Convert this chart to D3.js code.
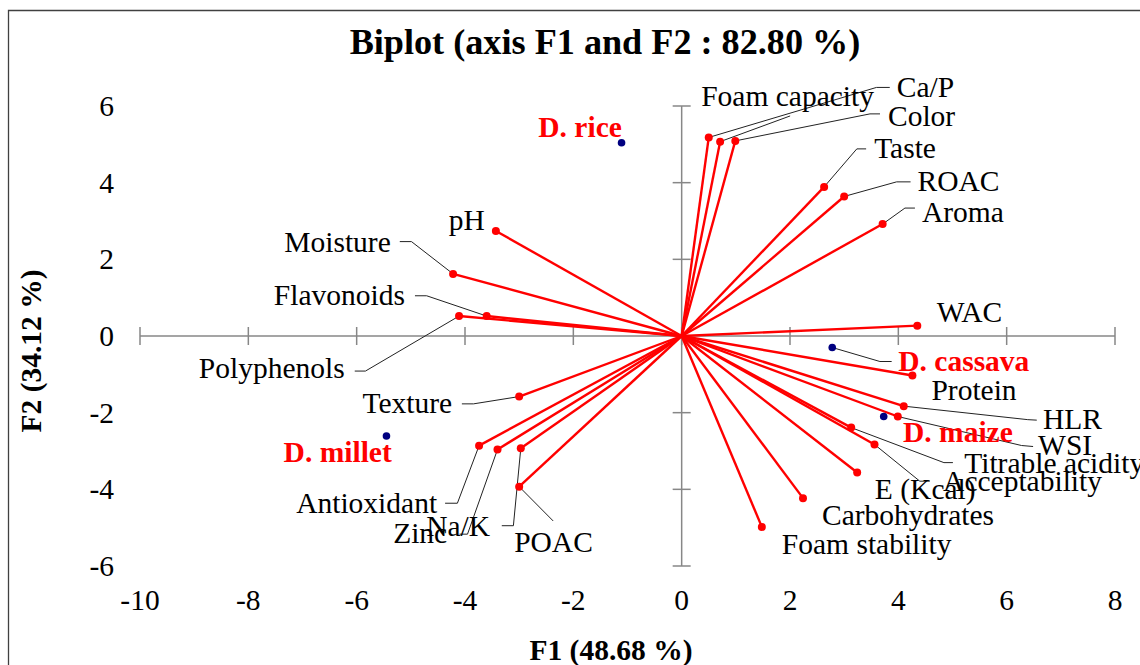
<!DOCTYPE html>
<html>
<head>
<meta charset="utf-8">
<script src="https://cdn.jsdelivr.net/npm/d3@7"></script>
<style>
  html, body { margin: 0; padding: 0; background: #fff; }
  svg { display: block; }
  text { font-family: "Liberation Serif", "Times New Roman", serif; }
</style>
</head>
<body>
<svg id="chart" width="1140" height="665"></svg>
<script>
// ---------------- DATA ----------------
const chartTitle = "Biplot (axis F1 and F2 : 82.80 %)";
const xTitle = "F1 (48.68 %)";
const yTitle = "F2 (34.12 %)";

const xTicks = [-10, -8, -6, -4, -2, 0, 2, 4, 6, 8];
const yTicks = [-6, -4, -2, 0, 2, 4, 6];

// Variables (loadings, scaled)
const varNames = ["Ca/P", "Foam capacity", "Color", "Taste", "ROAC", "Aroma", "WAC",
  "Protein", "HLR", "WSI", "Titrable acidity", "Acceptability", "E (Kcal)",
  "Carbohydrates", "Foam stability", "POAC", "Na/K", "Zinc", "Antioxidant",
  "Texture", "Polyphenols", "Flavonoids", "Moisture", "pH"];
const varF1 = [0.50, 0.71, 0.99, 2.63, 3.00, 3.71, 4.35,
  4.26, 4.10, 3.99, 3.13, 3.56, 3.24,
  2.24, 1.48, -3.00, -2.97, -3.40, -3.74,
  -3.00, -4.11, -3.60, -4.22, -3.43];
const varF2 = [5.18, 5.07, 5.09, 3.89, 3.64, 2.92, 0.27,
  -1.03, -1.83, -2.10, -2.39, -2.83, -3.56,
  -4.23, -4.98, -3.93, -2.93, -2.96, -2.86,
  -1.58, 0.52, 0.52, 1.62, 2.74];

// Observations
const obsNames = ["D. rice", "D. cassava", "D. maize", "D. millet"];
const obsF1 = [-1.11, 2.78, 3.73, -5.45];
const obsF2 = [5.04, -0.30, -2.10, -2.61];

// ---------------- LAYOUT (label offsets in px relative to point) ----------------
const varLabelLayout = {
  "Ca/P":            { a: "start", dx: 188,   dy: -40.3, lead: [[167.7, -50], [181, -50]] },
  "Foam capacity":   { a: "start", dx: -19,   dy: -35.7, lead: [[70, -25.7]] },
  "Color":           { a: "start", dx: 152.7, dy: -15,   lead: [[134.7, -27], [144.7, -27]] },
  "Taste":           { a: "start", dx: 50,    dy: -29,   lead: [[32.7, -38], [42, -38]] },
  "ROAC":            { a: "start", dx: 73.4,  dy: -5.3,  lead: [[52.4, -14.6], [66.4, -14.6]] },
  "Aroma":           { a: "start", dx: 39.3,  dy: -2,    lead: [[22.3, -16], [32.3, -16]] },
  "WAC":             { a: "start", dx: 19.4,  dy: -4,    lead: [] },
  "Protein":         { a: "start", dx: 19,    dy: 24.7,  lead: [] },
  "HLR":             { a: "start", dx: 139.3, dy: 23,    lead: [[124, 13.5], [133, 14]] },
  "WSI":             { a: "start", dx: 140.3, dy: 38.3,  lead: [[123.7, 29], [135.3, 30]] },
  "Titrable acidity":{ a: "start", dx: 113,   dy: 45,    lead: [[92.7, 35], [101.7, 35]] },
  "Acceptability":   { a: "start", dx: 68.6,  dy: 46.7,  lead: [[45.3, 36.7], [55.3, 36.7]] },
  "E (Kcal)":        { a: "start", dx: 17.7,  dy: 26.7,  lead: [] },
  "Carbohydrates":   { a: "start", dx: 19,    dy: 27,    lead: [] },
  "Foam stability":  { a: "start", dx: 20,    dy: 27,    lead: [] },
  "POAC":            { a: "start", dx: -5,    dy: 65.3,  lead: [[34, 34.3]] },
  "Na/K":            { a: "end",   dx: -30.7, dy: 87.7,  lead: [[-7.4, 77.4], [-19, 77.4]] },
  "Zinc":            { a: "end",   dx: -50.3, dy: 94,    lead: [[-30, 84.7], [-38, 84.7]] },
  "Antioxidant":     { a: "end",   dx: -42,   dy: 67.6,  lead: [[-21.7, 57.6], [-34, 57.6]] },
  "Texture":         { a: "end",   dx: -67,   dy: 16.3,  lead: [[-45.7, 7.3], [-57.3, 7.3]] },
  "Polyphenols":     { a: "end",   dx: -114.3,dy: 62.3,  lead: [[-93.6, 55], [-104.3, 55]] },
  "Flavonoids":      { a: "end",   dx: -81.7, dy: -11,   lead: [[-60, -20.3], [-71.7, -20.3]] },
  "Moisture":        { a: "end",   dx: -62.3, dy: -22.3, lead: [[-41.6, -32.3], [-53.3, -32.3]] },
  "pH":              { a: "end",   dx: -11,   dy: -1,    lead: [] }
};
const obsLabelLayout = {
  "D. rice":    { a: "end",   dx: 0.3,  dy: -5.7, lead: [] },
  "D. cassava": { a: "start", dx: 66,   dy: 23,   lead: [[47.7, 14], [59.4, 14]] },
  "D. maize":   { a: "start", dx: 19.3, dy: 25,   lead: [] },
  "D. millet":  { a: "end",   dx: 5.3,  dy: 25.7, lead: [] }
};

// ---------------- DRAW ----------------
const svg = d3.select("#chart");
const x = d3.scaleLinear().domain([-10, 8]).range([140, 1115]);
const y = d3.scaleLinear().domain([-6, 6]).range([566, 106]);

const fs = 29.5;
const axisColor = "#878787";

// Frame (cut at right/bottom like the reference)
svg.append("path")
  .attr("d", "M8.5,700 L8.5,10.5 L1150,10.5")
  .attr("fill", "none").attr("stroke", "#404040").attr("stroke-width", 1.3);

// Title
svg.append("text").attr("x", 605).attr("y", 54)
  .attr("text-anchor", "middle").attr("font-weight", "bold")
  .attr("font-size", 36.2).text(chartTitle);

// X axis through y=0
const gx = svg.append("g").attr("transform", `translate(0,${y(0)})`);
gx.append("line").attr("x1", x(-10)).attr("x2", x(8))
  .attr("stroke", axisColor).attr("stroke-width", 1.5);
gx.selectAll("line.tick").data(xTicks).join("line").attr("class", "tick")
  .attr("x1", d => x(d)).attr("x2", d => x(d)).attr("y1", -9).attr("y2", 9)
  .attr("stroke", axisColor).attr("stroke-width", 1.5);

// Y axis through x=0
const gy = svg.append("g").attr("transform", `translate(${x(0)},0)`);
gy.append("line").attr("y1", y(-6)).attr("y2", y(6))
  .attr("stroke", axisColor).attr("stroke-width", 1.5);
gy.selectAll("line.tick").data(yTicks).join("line").attr("class", "tick")
  .attr("y1", d => y(d)).attr("y2", d => y(d)).attr("x1", -9).attr("x2", 9)
  .attr("stroke", axisColor).attr("stroke-width", 1.5);

// Tick labels (placed at plot edges)
svg.selectAll("text.xt").data(xTicks).join("text").attr("class", "xt")
  .attr("x", d => x(d)).attr("y", y(-6) + 44)
  .attr("text-anchor", "middle").attr("font-size", fs)
  .text(d => d);
svg.selectAll("text.yt").data(yTicks).join("text").attr("class", "yt")
  .attr("x", 114).attr("y", d => y(d) + 10)
  .attr("text-anchor", "end").attr("font-size", fs)
  .text(d => d);

// Axis titles
svg.append("text").attr("x", 611).attr("y", 660)
  .attr("text-anchor", "middle").attr("font-weight", "bold")
  .attr("font-size", fs).text(xTitle);
svg.append("text").attr("transform", "translate(41,351) rotate(-90)")
  .attr("text-anchor", "middle").attr("font-weight", "bold")
  .attr("font-size", fs).text(yTitle);

// Variables table
const vars = varNames.map((n, i) => ({ name: n, f1: varF1[i], f2: varF2[i] }));
const obs = obsNames.map((n, i) => ({ name: n, f1: obsF1[i], f2: obsF2[i] }));

// Vectors
svg.selectAll("line.vec").data(vars).join("line").attr("class", "vec")
  .attr("x1", x(0)).attr("y1", y(0))
  .attr("x2", d => x(d.f1)).attr("y2", d => y(d.f2))
  .attr("stroke", "#FF0000").attr("stroke-width", 2.4);

// Leader lines
function leaderPath(d, lay) {
  const px = x(d.f1), py = y(d.f2);
  const pts = [[px, py]].concat(lay.lead.map(p => [px + p[0], py + p[1]]));
  return d3.line()(pts);
}
svg.selectAll("path.lv").data(vars.filter(d => varLabelLayout[d.name].lead.length))
  .join("path").attr("class", "lv")
  .attr("d", d => leaderPath(d, varLabelLayout[d.name]))
  .attr("fill", "none").attr("stroke", "#222").attr("stroke-width", 1);
svg.selectAll("path.lo").data(obs.filter(d => obsLabelLayout[d.name].lead.length))
  .join("path").attr("class", "lo")
  .attr("d", d => leaderPath(d, obsLabelLayout[d.name]))
  .attr("fill", "none").attr("stroke", "#222").attr("stroke-width", 1);

// Vector end dots
svg.selectAll("circle.vd").data(vars).join("circle").attr("class", "vd")
  .attr("cx", d => x(d.f1)).attr("cy", d => y(d.f2)).attr("r", 4)
  .attr("fill", "#FF0000");

// Observation dots
svg.selectAll("circle.od").data(obs).join("circle").attr("class", "od")
  .attr("cx", d => x(d.f1)).attr("cy", d => y(d.f2)).attr("r", 3.8)
  .attr("fill", "#000080");

// Variable labels
svg.selectAll("text.vl").data(vars).join("text").attr("class", "vl")
  .attr("x", d => x(d.f1) + varLabelLayout[d.name].dx)
  .attr("y", d => y(d.f2) + varLabelLayout[d.name].dy)
  .attr("text-anchor", d => varLabelLayout[d.name].a)
  .attr("font-size", fs).attr("fill", "#000")
  .text(d => d.name);

// Observation labels
svg.selectAll("text.ol").data(obs).join("text").attr("class", "ol")
  .attr("x", d => x(d.f1) + obsLabelLayout[d.name].dx)
  .attr("y", d => y(d.f2) + obsLabelLayout[d.name].dy)
  .attr("text-anchor", d => obsLabelLayout[d.name].a)
  .attr("font-size", fs).attr("font-weight", "bold").attr("fill", "#FF0000")
  .text(d => d.name);
</script>
</body>
</html>
